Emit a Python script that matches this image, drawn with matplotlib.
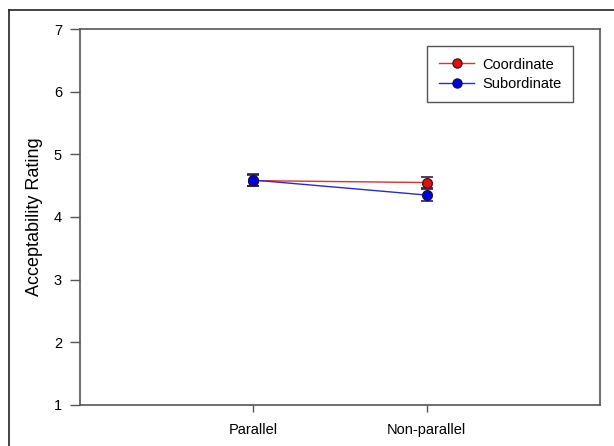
import matplotlib
matplotlib.use("Agg")
import matplotlib.pyplot as plt
from matplotlib.lines import Line2D

plt.rcParams["font.family"] = ["Liberation Sans", "DejaVu Sans"]

conditions = ["Parallel", "Non-parallel"]
x_pos = [1, 2]
coord_mean = [4.58, 4.55]
coord_err = [0.09, 0.09]
subord_mean = [4.59, 4.35]
subord_err = [0.09, 0.10]

fig = plt.figure(figsize=(6.14, 4.46), dpi=100)
ax = fig.add_axes([80 / 614, 41 / 446, 520 / 614, 376 / 446])

# outer frame of the original figure (top and left edges only visible)
fig.add_artist(Line2D([9 / 614, 1.0], [1 - 9.5 / 446] * 2, color="#222222", lw=1.2,
                      transform=fig.transFigure))
fig.add_artist(Line2D([9 / 614] * 2, [0, 1 - 9.5 / 446], color="#222222", lw=1.2,
                      transform=fig.transFigure))

series = [("Coordinate", coord_mean, coord_err, "#e03030", "#dd1111", "#551111"),
          ("Subordinate", subord_mean, subord_err, "#2a2ad0", "#0000dd", "#111155")]
handles = []
for i, (name, mean, err, lc, fc, ec) in enumerate(series):
    ax.errorbar(x_pos, mean, yerr=err, color=lc, lw=1.0, marker="o", ms=7,
                mfc=fc, mec=ec, ecolor="#302040", elinewidth=1.0, capsize=4.5,
                capthick=1.2, zorder=3 + i)
    handles.append(Line2D([], [], color=lc, lw=1.0, marker="o", ms=6.5, mfc=fc, mec=ec,
                          label=name))

ax.set_xlim(0, 3)
ax.set_ylim(1, 7)
ax.set_xticks(x_pos)
ax.set_xticklabels(conditions)
ax.set_yticks(range(1, 8))
ax.tick_params(axis="y", direction="out", length=7, width=1, color="#555555",
               labelsize=10.5, pad=6)
ax.tick_params(axis="x", direction="out", length=5, width=1, color="#555555",
               labelsize=10.5, pad=8)
ax.set_ylabel("Acceptability Rating", fontsize=13, labelpad=8)
for s in ax.spines.values():
    s.set_color("#555555")
    s.set_linewidth(1.2)

leg = ax.legend(handles=handles, loc="upper right", bbox_to_anchor=(0.948, 0.955),
                borderaxespad=0, fontsize=10.5, handlelength=2.4, handletextpad=0.55,
                borderpad=0.8, labelspacing=0.35, fancybox=False, framealpha=1,
                edgecolor="#555555")
leg.get_frame().set_linewidth(1.0)

fig.savefig("out.png", dpi=100, facecolor="white")
